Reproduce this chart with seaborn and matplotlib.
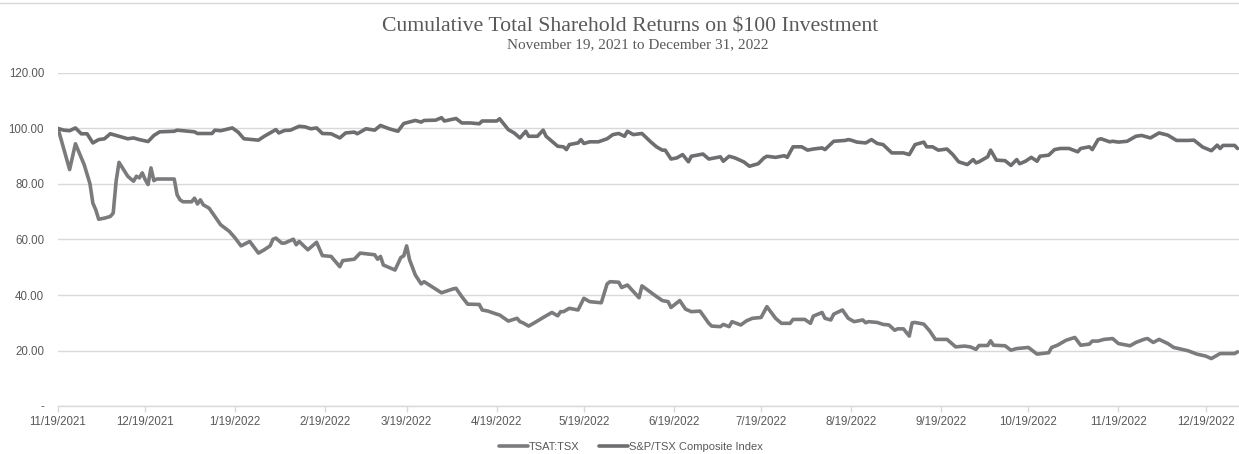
import numpy as np
import pandas as pd
import matplotlib
matplotlib.use("Agg")
import matplotlib.pyplot as plt
import seaborn as sns
from matplotlib.lines import Line2D

# ---------------- data ----------------
start_date = "2021-11-19"
end_date = "2022-12-30"

title = "Cumulative Total Sharehold Returns on $100 Investment"
subtitle = "November 19, 2021 to December 31, 2022"

series_names = ["TSAT:TSX", "S&P/TSX Composite Index"]

# days elapsed since start_date, and the cumulative value on that day
tsat_days = [0, 4, 6, 9, 11, 12, 13, 14, 16, 18, 19, 20, 21, 24, 26, 27, 28, 29, 30, 31,
             32, 33, 34, 40, 41, 42, 43, 46, 47, 48, 49, 50, 52, 54, 56, 59, 61, 63, 66, 68,
             69, 71, 73, 74, 75, 77, 78, 81, 82, 83, 86, 89, 91, 94, 97, 98, 102, 104, 109, 110,
             111, 112, 116, 118, 119, 120, 121, 123, 125, 126, 129, 132, 136, 137, 139, 141, 145, 146, 148, 151,
             152, 155, 158, 159, 160, 162, 164, 167, 170, 172, 173, 174, 176, 179, 181, 183, 187, 189, 190, 193,
             194, 196, 200, 201, 205, 208, 210, 211, 213, 214, 216, 218, 221, 224, 225, 228, 229, 231, 232, 235,
             237, 239, 242, 244, 247, 249, 252, 253, 257, 259, 260, 263, 264, 266, 267, 270, 272, 274, 277, 278,
             279, 282, 284, 286, 288, 289, 291, 293, 294, 295, 298, 300, 302, 306, 309, 312, 314, 316, 317, 320,
             321, 322, 326, 328, 330, 334, 337, 341, 342, 344, 347, 350, 352, 355, 356, 358, 360, 363, 365, 369,
             371, 374, 375, 377, 379, 382, 384, 389, 392, 395, 397, 400, 402, 405, 406]
tsat_values = [100.0, 85.2, 94.5, 87.0, 80.1, 73.1, 70.7, 67.3, 67.7, 68.3, 69.5, 81.0, 87.8, 82.8, 81.0, 82.8, 82.2, 84.0, 81.6, 79.8,
               85.8, 81.2, 81.8, 81.8, 76.1, 74.3, 73.6, 73.6, 74.9, 72.8, 74.3, 72.5, 71.3, 68.3, 65.3, 62.9, 60.5, 57.7, 59.3, 56.5,
               55.1, 56.3, 57.7, 60.1, 60.5, 58.7, 58.7, 60.1, 58.1, 59.3, 56.3, 59.0, 54.2, 53.9, 50.2, 52.4, 52.9, 55.1, 54.5, 52.9,
               53.9, 50.8, 49.0, 53.5, 54.1, 57.7, 52.7, 47.2, 44.0, 44.8, 42.8, 40.8, 42.2, 42.4, 39.4, 36.7, 36.6, 34.6, 34.2, 33.1,
               32.8, 30.6, 31.6, 30.4, 30.0, 28.8, 30.0, 31.9, 33.7, 32.5, 34.0, 34.0, 35.2, 34.6, 38.8, 37.6, 37.2, 44.0, 44.8, 44.6,
               42.7, 43.6, 39.0, 43.3, 40.2, 38.0, 37.6, 35.5, 37.2, 38.0, 34.9, 34.0, 34.2, 29.8, 28.8, 28.6, 29.4, 28.6, 30.4, 29.2,
               30.7, 31.6, 31.9, 35.8, 31.6, 29.8, 29.8, 31.2, 31.2, 29.8, 32.4, 33.7, 31.6, 31.0, 33.1, 34.6, 31.6, 30.4, 31.0, 30.0,
               30.4, 30.1, 29.4, 29.2, 27.3, 27.8, 27.8, 25.2, 30.0, 30.1, 29.5, 27.1, 24.0, 24.0, 21.3, 21.6, 21.3, 20.4, 21.8, 21.8,
               23.5, 21.9, 21.7, 20.1, 20.7, 21.1, 18.7, 19.2, 21.1, 21.9, 23.7, 24.7, 21.9, 22.3, 23.4, 23.4, 24.0, 24.3, 22.5, 21.7,
               22.9, 24.1, 24.3, 22.9, 24.0, 22.5, 21.1, 19.9, 18.7, 18.0, 17.1, 18.9, 18.9, 18.9, 19.5]

sp_days = [0, 2, 4, 6, 8, 10, 12, 14, 16, 18, 21, 24, 26, 28, 31, 33, 35, 40, 41, 47,
           48, 53, 54, 56, 60, 62, 64, 69, 71, 75, 76, 78, 80, 83, 85, 87, 89, 91, 94, 97,
           99, 102, 103, 106, 109, 111, 114, 117, 119, 123, 125, 126, 130, 132, 133, 137, 139, 142, 145, 146,
           151, 152, 155, 157, 159, 161, 162, 165, 167, 168, 170, 172, 174, 175, 176, 179, 180, 181, 183, 186,
           189, 191, 193, 195, 196, 198, 201, 204, 206, 208, 209, 211, 213, 215, 217, 218, 222, 224, 228, 229,
           231, 233, 236, 238, 241, 243, 244, 247, 250, 251, 253, 256, 258, 260, 263, 264, 267, 271, 272, 273,
           275, 278, 280, 282, 284, 287, 291, 293, 295, 298, 299, 301, 303, 306, 308, 310, 313, 315, 316, 317,
           320, 321, 323, 326, 328, 330, 331, 333, 335, 337, 338, 341, 343, 345, 348, 351, 352, 355, 356, 358,
           359, 362, 363, 365, 368, 371, 373, 376, 379, 382, 385, 389, 391, 394, 397, 399, 400, 401, 405, 406]
sp_values = [100.0, 99.4, 99.2, 100.2, 98.1, 98.1, 94.8, 96.0, 96.3, 98.1, 97.2, 96.3, 96.6, 96.0, 95.3, 97.5, 98.8, 99.0, 99.4, 98.8,
             98.2, 98.2, 99.4, 99.2, 100.2, 98.7, 96.3, 95.8, 97.2, 99.6, 98.4, 99.3, 99.4, 100.8, 100.6, 99.9, 100.2, 98.2, 98.1, 96.6,
             98.4, 98.7, 98.1, 99.9, 99.4, 101.1, 99.9, 99.0, 101.8, 102.9, 102.3, 102.9, 103.0, 103.9, 102.7, 103.6, 102.0, 102.0, 101.7, 102.7,
             102.7, 103.5, 99.6, 98.4, 96.6, 99.0, 97.2, 97.2, 99.4, 97.2, 95.4, 93.6, 93.4, 92.4, 94.2, 94.8, 96.0, 94.6, 95.2, 95.2,
             96.3, 97.8, 98.2, 97.2, 99.0, 97.8, 98.2, 95.2, 93.4, 92.2, 92.2, 89.0, 89.4, 90.6, 88.0, 90.0, 90.8, 89.0, 89.8, 88.2,
             90.0, 89.4, 88.0, 86.4, 87.3, 89.4, 90.0, 89.6, 90.2, 89.6, 93.4, 93.4, 92.2, 92.6, 93.0, 92.4, 95.4, 95.7, 96.0, 95.8,
             95.1, 94.8, 96.0, 94.6, 94.2, 91.2, 91.2, 90.6, 94.2, 95.1, 93.4, 93.4, 92.2, 92.6, 90.6, 88.0, 87.0, 88.8, 87.6, 88.0,
             89.8, 92.2, 88.6, 88.4, 86.7, 88.8, 87.3, 88.2, 89.6, 88.2, 90.0, 90.4, 92.4, 92.8, 92.8, 91.6, 92.8, 93.4, 92.4, 96.0,
             96.3, 95.2, 95.4, 95.1, 95.4, 97.2, 97.5, 96.6, 98.4, 97.6, 95.7, 95.7, 95.8, 93.3, 92.0, 94.0, 92.8, 93.9, 93.9, 92.8]

x_tick_labels = ["11/19/2021", "12/19/2021", "1/19/2022", "2/19/2022", "3/19/2022", "4/19/2022",
                 "5/19/2022", "6/19/2022", "7/19/2022", "8/19/2022", "9/19/2022", "10/19/2022",
                 "11/19/2022", "12/19/2022"]
y_ticks = [0, 20, 40, 60, 80, 100, 120]
y_tick_labels = ["-", "20.00", "40.00", "60.00", "80.00", "100.00", "120.00"]

# ---------------- build tidy frame ----------------
t0 = pd.Timestamp(start_date)
df = pd.concat([
    pd.DataFrame({"date": t0 + pd.to_timedelta(tsat_days, unit="D"), "value": tsat_values,
                  "series": series_names[0]}),
    pd.DataFrame({"date": t0 + pd.to_timedelta(sp_days, unit="D"), "value": sp_values,
                  "series": series_names[1]}),
], ignore_index=True)

# ---------------- style ----------------
sns.set_theme(style="white")
plt.rcParams["font.family"] = ["Liberation Sans", "DejaVu Sans"]

text_grey = "#595959"
grid_grey = "#d9d9d9"
palette = {series_names[0]: "#7b7b7e", series_names[1]: "#6e6e71"}

fig = plt.figure(figsize=(12.39, 4.54), dpi=100)
ax = fig.add_axes([58 / 1239, 1 - 406 / 454, 1 - 58 / 1239, (406 - 73) / 454])

sns.lineplot(data=df, x="date", y="value", hue="series", hue_order=series_names,
             palette=palette, linewidth=2.6, estimator=None, ax=ax, legend=False)

ax.set_xlim(t0, pd.Timestamp(end_date) + pd.Timedelta(hours=12))
ax.set_ylim(0, 120)

ax.set_yticks(y_ticks)
ax.set_yticklabels(y_tick_labels)
ax.set_xticks(pd.to_datetime(x_tick_labels, format="%m/%d/%Y"))
ax.set_xticklabels(x_tick_labels)

ax.grid(axis="y", color=grid_grey, linewidth=1.0)
ax.set_axisbelow(True)
for s in ["top", "right", "left"]:
    ax.spines[s].set_visible(False)
ax.spines["bottom"].set_color(grid_grey)
ax.spines["bottom"].set_linewidth(1.0)

ax.tick_params(axis="y", length=0, pad=10, labelsize=8.3, labelcolor=text_grey)
ax.tick_params(axis="x", length=4, width=1, color=grid_grey, direction="out", pad=3,
               labelsize=8.3, labelcolor=text_grey, bottom=True)
ax.set_xlabel("")
ax.set_ylabel("")

# titles
fig.text(630 / 1239, 1 - 27 / 454, title, ha="center", va="center",
         family=["Liberation Serif", "DejaVu Serif"], fontsize=15.7, color=text_grey)
fig.text(638 / 1239, 1 - 45 / 454, subtitle, ha="center", va="center",
         family=["Liberation Serif", "DejaVu Serif"], fontsize=11, color=text_grey)

# top border line of the chart area
fig.add_artist(Line2D([0, 1], [1 - 3 / 454, 1 - 3 / 454], color=grid_grey, linewidth=1.0,
                      transform=fig.transFigure))

# legend
handles = [Line2D([], [], color=palette[n], linewidth=2.6) for n in series_names]
fig.legend(handles, series_names, loc="center", bbox_to_anchor=(631 / 1239, 1 - 447 / 454),
           ncol=2, frameon=False, fontsize=8, labelcolor=text_grey, handlelength=2.6,
           handletextpad=0.1, columnspacing=1.8, borderpad=0)

fig.savefig("out.png", dpi=100)
